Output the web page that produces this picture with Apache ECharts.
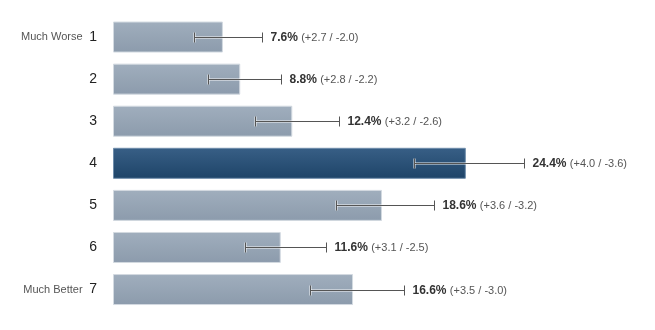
<!DOCTYPE html>
<html><head><meta charset="utf-8">
<script src="https://cdn.jsdelivr.net/npm/echarts@6/dist/echarts.min.js"></script>
<style>html,body{margin:0;padding:0;background:#fff}#c{width:655px;height:330px}</style>
</head><body><div id="c"></div>
<script>
const categories = ['1','2','3','4','5','6','7'];
const sideLabels = ['Much Worse','','','','','','Much Better'];
const values = [7.6, 8.8, 12.4, 24.4, 18.6, 11.6, 16.6];
const plusErr = [2.7, 2.8, 3.2, 4.0, 3.6, 3.1, 3.5];
const minusErr = [2.0, 2.2, 2.6, 3.6, 3.2, 2.5, 3.0];
const highlightIndex = 3;

const chart = echarts.init(document.getElementById('c'), null, {renderer:'canvas'});
const normalColor = new echarts.graphic.LinearGradient(0,0,0,1,[{offset:0,color:'#a0aebd'},{offset:1,color:'#8c9bac'}]);
const hiColor = new echarts.graphic.LinearGradient(0,0,0,1,[{offset:0,color:'#385f86'},{offset:1,color:'#1e4468'}]);

const barData = values.map((v,i)=>({
  value: v,
  itemStyle: i===highlightIndex
    ? {color: hiColor, borderColor:'#6f8dab', borderWidth:1}
    : {color: normalColor, borderColor:'#d3dae1', borderWidth:1}
}));
const errData = values.map((v,i)=>[i, v, v+plusErr[i], v-minusErr[i], plusErr[i], minusErr[i]]);

chart.setOption({
  animation:false,
  grid:{left:113, top:16, bottom:19.4, width:14.46*30},
  xAxis:{type:'value', min:0, max:30, show:false},
  yAxis:{type:'category', data:categories, inverse:true,
    axisLine:{show:false}, axisTick:{show:false}, splitLine:{show:false},
    axisLabel:{margin:16, align:'right',
      formatter:(val,idx)=> (sideLabels[idx] ? '{s|'+sideLabels[idx]+'}  ' : '') + '{n|'+val+'}',
      rich:{
        s:{fontFamily:'Liberation Sans, Arial, sans-serif', fontSize:11, color:'#555'},
        n:{fontFamily:'Liberation Sans, Arial, sans-serif', fontSize:14, color:'#222'}
      }}},
  series:[
    {type:'bar', data:barData, barWidth:31, silent:true},
    {type:'custom', data:errData, z:5, silent:true,
      renderItem:function(params, api){
        const i = api.value(0);
        const hi = api.coord([api.value(2), i]);
        const lo = api.coord([api.value(3), i]);
        const y = Math.round(hi[1]) + 0.5;
        const xh = Math.round(hi[0]) + 0.5, xl = Math.round(lo[0]) + 0.5;
        const capH = 5;
        const halo = {stroke:'rgba(255,255,255,0.45)', lineWidth:3};
        const dark = {stroke:'#555', lineWidth:1};
        const idx = params.dataIndex;
        return {type:'group', children:[
          {type:'line', shape:{x1:xl,y1:y,x2:xh,y2:y}, style:halo},
          {type:'line', shape:{x1:xl,y1:y-capH,x2:xl,y2:y+capH}, style:halo},
          {type:'line', shape:{x1:xl,y1:y,x2:xh,y2:y}, style:dark},
          {type:'line', shape:{x1:xl,y1:y-capH,x2:xl,y2:y+capH}, style:dark},
          {type:'line', shape:{x1:xh,y1:y-capH,x2:xh,y2:y+capH}, style:dark},
          {type:'text', x:xh+8, y:y, style:{
            text:'{v|'+values[idx].toFixed(1)+'%} {p|(+'+api.value(4).toFixed(1)+' / -'+api.value(5).toFixed(1)+')}',
            verticalAlign:'middle', align:'left',
            rich:{
              v:{fontFamily:'Liberation Sans, Arial, sans-serif', fontSize:12, fontWeight:'bold', fill:'#333'},
              p:{fontFamily:'Liberation Sans, Arial, sans-serif', fontSize:11, fill:'#555'}
            }}}
        ]};
      }}
  ]
});
</script></body></html>
